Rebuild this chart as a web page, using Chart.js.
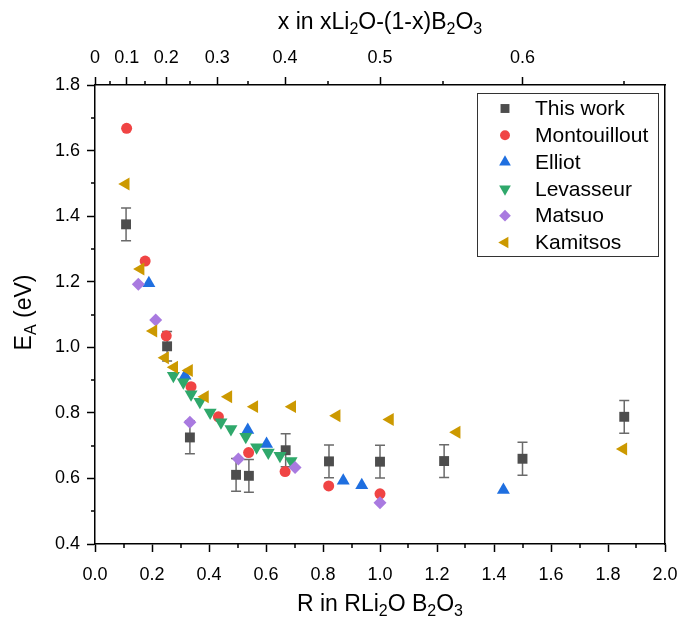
<!DOCTYPE html>
<html>
<head>
<meta charset="utf-8">
<script src="https://cdn.jsdelivr.net/npm/chart.js@4.4.0/dist/chart.umd.min.js"></script>
<style>
  html, body { margin: 0; padding: 0; background: #fff; }
</style>
</head>
<body>
<canvas id="chart" width="680" height="617"></canvas>
<script>
// data
const thisWorkR = [0.109, 0.253, 0.333, 0.495, 0.540, 0.669, 0.821, 1.0, 1.225, 1.5, 1.857];
const thisWorkE = [1.375, 1.003, 0.725, 0.611, 0.608, 0.686, 0.652, 0.651, 0.653, 0.660, 0.788];
const thisWorkErr = [0.05, 0.045, 0.05, 0.05, 0.05, 0.05, 0.05, 0.05, 0.05, 0.05, 0.05];

const montouilloutR = [0.111, 0.176, 0.250, 0.337, 0.433, 0.539, 0.667, 0.820, 1.0];
const montouilloutE = [1.668, 1.263, 1.035, 0.880, 0.788, 0.679, 0.621, 0.577, 0.553];

const elliotR = [0.189, 0.316, 0.536, 0.602, 0.871, 0.936, 1.433];
const elliotE = [1.195, 0.913, 0.748, 0.705, 0.593, 0.579, 0.565];

const levasseurR = [0.275, 0.310, 0.337, 0.368, 0.404, 0.442, 0.477, 0.529, 0.567, 0.608, 0.649, 0.688];
const levasseurE = [0.913, 0.893, 0.857, 0.834, 0.801, 0.771, 0.751, 0.727, 0.695, 0.679, 0.669, 0.653];

const matsuoR = [0.152, 0.213, 0.333, 0.503, 0.702, 1.0];
const matsuoE = [1.192, 1.083, 0.771, 0.659, 0.633, 0.526];

const kamitsosR = [0.108, 0.160, 0.205, 0.246, 0.278, 0.330, 0.386, 0.468, 0.559, 0.692, 0.848, 1.035, 1.269, 1.854];
const kamitsosE = [1.498, 1.239, 1.050, 0.968, 0.939, 0.929, 0.849, 0.849, 0.819, 0.819, 0.791, 0.780, 0.741, 0.690];

// top axis: x in xLi2O-(1-x)B2O3, R = x/(1-x)
const topMajorX = [0, 0.1, 0.2, 0.3, 0.4, 0.5, 0.6];
const topMinorX = [0.05, 0.15, 0.25, 0.35, 0.45, 0.55, 0.65];
const topLabels = ['0', '0.1', '0.2', '0.3', '0.4', '0.5', '0.6'];

const FONT = "'Liberation Sans', Arial, sans-serif";
const toR = x => x / (1 - x);
const pts = (xs, ys) => xs.map((x, i) => ({ x: x, y: ys[i] }));

const series = [
    { label: 'This work', data: pts(thisWorkR, thisWorkE), color: '#4d4d4d', style: 'rect', radius: 7, rot: 0, order: 6 },
    { label: 'Montouillout', data: pts(montouilloutR, montouilloutE), color: '#f04444', style: 'circle', radius: 5.5, rot: 0, order: 5 },
    { label: 'Elliot', data: pts(elliotR, elliotE), color: '#1f6fe0', style: 'triangle', radius: 7.5, rot: 0, order: 4 },
    { label: 'Levasseur', data: pts(levasseurR, levasseurE), color: '#2fa86b', style: 'triangle', radius: 7.5, rot: 180, order: 3 },
    { label: 'Matsuo', data: pts(matsuoR, matsuoE), color: '#a97ae0', style: 'rectRot', radius: 6.5, rot: 0, order: 2 },
    { label: 'Kamitsos', data: pts(kamitsosR, kamitsosE), color: '#cc9900', style: 'triangle', radius: 7.5, rot: -90, order: 1 }
];

// text with subscripts, parts = [[text, isSub], ...]
function drawRich(ctx, parts, cx, cy, size) {
    const subSize = Math.round(size * 0.68);
    let w = 0;
    parts.forEach(p => {
        ctx.font = (p[1] ? subSize : size) + 'px ' + FONT;
        w += ctx.measureText(p[0]).width;
    });
    let x = cx - w / 2;
    ctx.textAlign = 'left';
    ctx.textBaseline = 'alphabetic';
    ctx.fillStyle = '#000';
    parts.forEach(p => {
        ctx.font = (p[1] ? subSize : size) + 'px ' + FONT;
        ctx.fillText(p[0], x, cy + size * 0.35 + (p[1] ? size * 0.22 : 0));
        x += ctx.measureText(p[0]).width;
    });
}

const errorBars = {
    id: 'errorBars',
    beforeDatasetsDraw(chart) {
        const ctx = chart.ctx;
        const xs = chart.scales.x, ys = chart.scales.y;
        ctx.save();
        ctx.strokeStyle = '#6a6a6a';
        ctx.lineWidth = 1.5;
        thisWorkR.forEach((r, i) => {
            const px = xs.getPixelForValue(r);
            const top = ys.getPixelForValue(thisWorkE[i] + thisWorkErr[i]);
            const bot = ys.getPixelForValue(thisWorkE[i] - thisWorkErr[i]);
            ctx.beginPath();
            ctx.moveTo(px, top); ctx.lineTo(px, bot);
            ctx.moveTo(px - 5, top); ctx.lineTo(px + 5, top);
            ctx.moveTo(px - 5, bot); ctx.lineTo(px + 5, bot);
            ctx.stroke();
        });
        ctx.restore();
    }
};

const extras = {
    id: 'extras',
    afterDraw(chart) {
        const ctx = chart.ctx;
        const a = chart.chartArea;
        const xs = chart.scales.x, ys = chart.scales.y;
        ctx.save();
        // minor ticks
        ctx.strokeStyle = '#000';
        ctx.lineWidth = 1.5;
        ctx.beginPath();
        for (let v = 0.1; v < 2; v += 0.2) {
            const px = Math.round(xs.getPixelForValue(v));
            ctx.moveTo(px, a.bottom); ctx.lineTo(px, a.bottom + 4);
        }
        for (let v = 0.5; v < 1.8; v += 0.2) {
            const py = Math.round(ys.getPixelForValue(v));
            ctx.moveTo(a.left, py); ctx.lineTo(a.left - 4, py);
        }
        topMinorX.forEach(x => {
            const px = Math.round(xs.getPixelForValue(toR(x)));
            ctx.moveTo(px, a.top); ctx.lineTo(px, a.top - 4);
        });
        ctx.stroke();

        // titles
        drawRich(ctx, [['x in xLi', 0], ['2', 1], ['O-(1-x)B', 0], ['2', 1], ['O', 0], ['3', 1]], (a.left + a.right) / 2, 21, 23);
        drawRich(ctx, [['R in RLi', 0], ['2', 1], ['O B', 0], ['2', 1], ['O', 0], ['3', 1]], (a.left + a.right) / 2, 603, 23);
        ctx.save();
        ctx.translate(23, (a.top + a.bottom) / 2 - 2);
        ctx.rotate(-Math.PI / 2);
        drawRich(ctx, [['E', 0], ['A', 1], [' (eV)', 0]], 0, 0, 23);
        ctx.restore();

        // legend
        const lx = 477, ly = 93, lw = 181, lh = 163;
        ctx.fillStyle = '#fff';
        ctx.fillRect(lx, ly, lw, lh);
        ctx.strokeStyle = '#333';
        ctx.lineWidth = 1;
        ctx.strokeRect(lx + 0.5, ly + 0.5, lw, lh);
        series.forEach((s, i) => {
            const y = ly + 15.5 + i * 26.8;
            ctx.fillStyle = s.color;
            Chart.helpers.drawPoint(ctx, { pointStyle: s.style, rotation: s.rot, radius: s.radius * 0.9, borderWidth: 0 }, 505, y);
            ctx.fillStyle = '#000';
            ctx.font = '21px ' + FONT;
            ctx.textAlign = 'left';
            ctx.textBaseline = 'middle';
            ctx.fillText(s.label, 535, y + 1);
        });
        ctx.restore();
    }
};

const axisLine = { color: '#000', width: 1.5 };
const tickFont = { family: FONT, size: 18 };
const noPad = scale => { scale.paddingLeft = 0; scale.paddingRight = 0; scale.paddingTop = 0; scale.paddingBottom = 0; };

new Chart(document.getElementById('chart').getContext('2d'), {
    type: 'scatter',
    data: {
        datasets: series.map(s => ({
            label: s.label,
            data: s.data,
            order: s.order,
            pointStyle: s.style,
            pointRotation: s.rot,
            pointRadius: s.radius,
            pointHoverRadius: s.radius,
            pointBorderWidth: 0,
            backgroundColor: s.color,
            borderColor: s.color
        }))
    },
    options: {
        responsive: false,
        animation: false,
        layout: { padding: 0 },
        plugins: {
            legend: { display: false },
            tooltip: { enabled: false }
        },
        scales: {
            x: {
                type: 'linear',
                position: 'bottom',
                min: 0,
                max: 2,
                ticks: {
                    stepSize: 0.2,
                    color: '#000',
                    font: tickFont,
                    padding: 12,
                    maxRotation: 0,
                    callback: v => v.toFixed(1)
                },
                grid: { drawOnChartArea: false, tickLength: 8, tickWidth: 1.5, tickColor: '#000' },
                border: axisLine,
                afterFit: scale => { scale.height = 73; noPad(scale); }
            },
            xTop: {
                type: 'linear',
                position: 'top',
                min: 0,
                max: 2,
                afterBuildTicks: scale => {
                    scale.ticks = topMajorX.map(x => ({ value: toR(x) }));
                },
                ticks: {
                    autoSkip: false,
                    maxRotation: 0,
                    color: '#000',
                    font: tickFont,
                    padding: 8,
                    callback: (v, i) => topLabels[i]
                },
                grid: { drawOnChartArea: false, tickLength: 8, tickWidth: 1.5, tickColor: '#000' },
                border: axisLine,
                afterFit: scale => { scale.height = 85; noPad(scale); }
            },
            y: {
                type: 'linear',
                position: 'left',
                min: 0.4,
                max: 1.8,
                ticks: {
                    stepSize: 0.2,
                    color: '#000',
                    font: tickFont,
                    padding: 7,
                    callback: v => v.toFixed(1)
                },
                grid: { drawOnChartArea: false, tickLength: 8, tickWidth: 1.5, tickColor: '#000' },
                border: axisLine,
                afterFit: scale => { scale.width = 95; noPad(scale); }
            },
            yRight: {
                type: 'linear',
                position: 'right',
                min: 0.4,
                max: 1.8,
                ticks: { display: false },
                grid: { display: false },
                border: axisLine,
                afterFit: scale => { scale.width = 15; noPad(scale); }
            }
        }
    },
    plugins: [errorBars, extras]
});
</script>
</body>
</html>
